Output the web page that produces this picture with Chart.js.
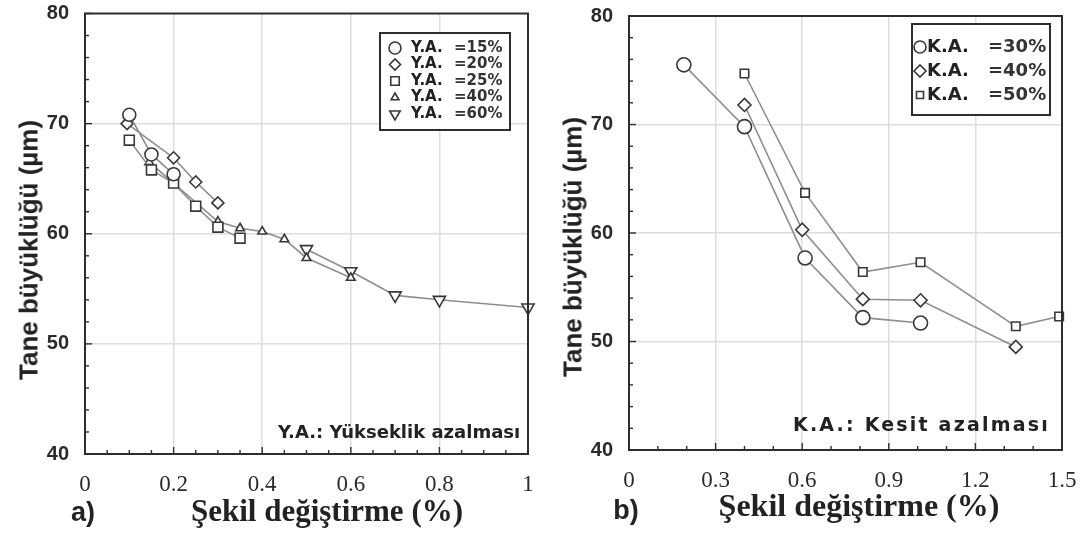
<!DOCTYPE html>
<html>
<head>
<meta charset="utf-8">
<script src="https://cdn.jsdelivr.net/npm/chart.js@4.4.1/dist/chart.umd.min.js"></script>
<style>
  html, body { margin: 0; padding: 0; background: #fff; }
  #page { position: relative; width: 1089px; height: 534px; overflow: hidden; background: #fff; }
  .panel { position: absolute; top: 0; height: 534px; }
  .panel canvas { position: absolute; left: 0; top: 0; }
  .txt { position: absolute; white-space: nowrap; color: #222; line-height: 1; }
  .ytitle { font: bold 26px "Liberation Sans", Arial, sans-serif; transform: translate(-50%, -50%) rotate(-90deg); }
  .xtitle { font: bold 31px "Liberation Serif", "Times New Roman", serif; transform: translate(-50%, -50%); }
  .tag { font: bold 27px "Liberation Sans", Arial, sans-serif; transform: translate(-50%, -50%); }
  .note { font: bold 18px "DejaVu Sans", sans-serif; transform: translate(0, -50%); }
</style>
</head>
<body>
<div id="page">
  <div class="panel" id="panelA" style="left:0;width:545px;">
    <canvas id="chartA" width="545" height="534"></canvas>
  </div>
  <div class="panel" id="panelB" style="left:545px;width:544px;">
    <canvas id="chartB" width="544" height="534"></canvas>
  </div>

  <div class="txt ytitle" style="left:29px;top:250px;">Tane büyüklüğü (µm)</div>
  <div class="txt ytitle" style="left:573px;top:247px;">Tane büyüklüğü (µm)</div>
  <div class="txt tag" style="left:83px;top:512px;">a)</div>
  <div class="txt tag" style="left:626px;top:510px;">b)</div>
  <div class="txt xtitle" style="left:327px;top:511px;">Şekil değiştirme (%)</div>
  <div class="txt xtitle" style="left:859px;top:505px;font-size:32px;">Şekil değiştirme (%)</div>
  <div class="txt note" style="left:278px;top:431px;">Y.A.: Yükseklik azalması</div>
  <div class="txt note" style="left:793px;top:424px;letter-spacing:2.2px;font-size:19px;">K.A.: Kesit azalması</div>
</div>

<script>
// ---------- panel a: height reduction series (Y.A.) ----------
const xTicksA = [0, 0.2, 0.4, 0.6, 0.8, 1];
const yTicks = [40, 50, 60, 70, 80];

const labelsA = ['Y.A. =15%', 'Y.A. =20%', 'Y.A. =25%', 'Y.A. =40%', 'Y.A. =60%'];

const ya15X = [0.1, 0.15, 0.2];
const ya15Y = [70.8, 67.2, 65.4];

const ya20X = [0.095, 0.2, 0.25, 0.3];
const ya20Y = [70.0, 66.9, 64.7, 62.8];

const ya25X = [0.1, 0.15, 0.2, 0.25, 0.3, 0.35];
const ya25Y = [68.5, 65.8, 64.6, 62.5, 60.6, 59.6];

const ya40X = [0.145, 0.3, 0.35, 0.4, 0.45, 0.5, 0.6];
const ya40Y = [66.5, 61.1, 60.5, 60.2, 59.5, 57.8, 56.0];

const ya60X = [0.5, 0.6, 0.7, 0.8, 1.0];
const ya60Y = [58.6, 56.6, 54.4, 54.0, 53.3];

// ---------- panel b: cross-section reduction series (K.A.) ----------
const xTicksB = [0, 0.3, 0.6, 0.9, 1.2, 1.5];

const labelsB = ['K.A. =30%', 'K.A. =40%', 'K.A. =50%'];

const ka30X = [0.19, 0.4, 0.61, 0.81, 1.01];
const ka30Y = [75.5, 69.8, 57.7, 52.2, 51.7];

const ka40X = [0.4, 0.6, 0.81, 1.01, 1.34];
const ka40Y = [71.8, 60.3, 53.9, 53.8, 49.5];

const ka50X = [0.4, 0.61, 0.81, 1.01, 1.34, 1.49];
const ka50Y = [74.7, 63.7, 56.4, 57.3, 51.4, 52.3];

// ---------- shared styling ----------
const LINE_COLOR = '#8e8e8e';
const MARK_COLOR = '#383838';
const FRAME_COLOR = '#2e2e2e';
const GRID_COLOR = '#dedede';

function pairs(xs, ys) {
  return xs.map((x, i) => ({ x: x, y: ys[i] }));
}

function series(label, xs, ys, style, radius, rotation) {
  return {
    label: label,
    data: pairs(xs, ys),
    showLine: true,
    borderColor: LINE_COLOR,
    borderWidth: 1.6,
    pointStyle: style,
    pointRadius: radius,
    pointRotation: rotation || 0,
    pointBorderColor: MARK_COLOR,
    pointBackgroundColor: '#ffffff',
    pointBorderWidth: 1.6,
    pointHoverRadius: radius,
    clip: false,
    tension: 0
  };
}

function markerAt(ctx, ds, x, y) {
  const opts = { pointStyle: ds.pointStyle, rotation: ds.pointRotation, radius: ds.pointRadius, borderWidth: ds.pointBorderWidth };
  ctx.save();
  ctx.strokeStyle = ds.pointBorderColor;
  ctx.fillStyle = ds.pointBackgroundColor;
  ctx.lineWidth = ds.pointBorderWidth;
  if (Chart.helpers && Chart.helpers.drawPoint) {
    Chart.helpers.drawPoint(ctx, opts, x, y);
  } else {
    ctx.beginPath();
    ctx.arc(x, y, ds.pointRadius, 0, Math.PI * 2);
    ctx.fill();
    ctx.stroke();
  }
  ctx.restore();
}

// Box frame around the plot area plus inward major/minor tick marks.
const framePlugin = {
  id: 'frameTicks',
  afterDatasetsDraw(chart, args, opts) {
    const { ctx, chartArea: a, scales } = chart;
    ctx.save();
    ctx.strokeStyle = FRAME_COLOR;
    ctx.lineWidth = 1.4;
    const drawSet = (scale, step, major, horizontal) => {
      const n = Math.round((scale.max - scale.min) / step);
      for (let i = 0; i <= n; i++) {
        const v = scale.min + i * step;
        const isMajor = major.some(m => Math.abs(m - v) < 1e-6);
        const len = isMajor ? 7 : 4;
        const p = scale.getPixelForValue(v);
        ctx.beginPath();
        if (horizontal) {
          ctx.moveTo(p, a.bottom);
          ctx.lineTo(p, a.bottom - len);
        } else {
          ctx.moveTo(a.left, p);
          ctx.lineTo(a.left + len, p);
        }
        ctx.stroke();
      }
    };
    drawSet(scales.x, opts.xMinor, opts.xMajor, true);
    drawSet(scales.y, opts.yMinor, opts.yMajor, false);
    ctx.lineWidth = 2;
    ctx.strokeRect(a.left, a.top, a.right - a.left, a.bottom - a.top);
    ctx.restore();
  }
};

// Boxed legend placed inside the plot area.
const boxLegendPlugin = {
  id: 'boxLegend',
  afterDraw(chart, args, o) {
    const ctx = chart.ctx;
    ctx.save();
    ctx.strokeStyle = FRAME_COLOR;
    ctx.lineWidth = 2;
    ctx.fillStyle = '#ffffff';
    ctx.fillRect(o.box[0], o.box[1], o.box[2] - o.box[0], o.box[3] - o.box[1]);
    ctx.strokeRect(o.box[0], o.box[1], o.box[2] - o.box[0], o.box[3] - o.box[1]);
    chart.data.datasets.forEach((ds, i) => {
      const y = o.rowY + i * o.rowStep;
      const legendDs = Object.assign({}, ds, { pointRadius: o.markerRadius[i] });
      markerAt(ctx, legendDs, o.markerX, y);
      const parts = ds.label.split(' =');
      ctx.fillStyle = '#222';
      ctx.font = o.font;
      ctx.textBaseline = 'middle';
      ctx.textAlign = 'left';
      ctx.fillText(parts[0], o.textX, y);
      ctx.fillStyle = '#333';
      ctx.fillText('=' + parts[1], o.valueX, y);
    });
    ctx.restore();
  }
};

function buildChart(canvasId, cfg) {
  const gridColor = (c) => {
    const v = c.tick ? c.tick.value : null;
    if (v === null) return 'rgba(0,0,0,0)';
    const s = c.scale;
    return (Math.abs(v - s.min) < 1e-9 || Math.abs(v - s.max) < 1e-9) ? 'rgba(0,0,0,0)' : GRID_COLOR;
  };
  return new Chart(document.getElementById(canvasId), {
    type: 'scatter',
    data: { datasets: cfg.datasets },
    options: {
      responsive: false,
      animation: false,
      events: [],
      layout: { padding: cfg.padding, autoPadding: false },
      plugins: {
        legend: { display: false },
        tooltip: { enabled: false },
        frameTicks: { xMinor: cfg.xMinor, xMajor: cfg.xTicks, yMinor: 2, yMajor: yTicks },
        boxLegend: cfg.legend
      },
      scales: {
        x: {
          type: 'linear',
          min: cfg.xTicks[0],
          max: cfg.xTicks[cfg.xTicks.length - 1],
          afterBuildTicks: (s) => { s.ticks = cfg.xTicks.map(v => ({ value: v })); },
          afterFit: (s) => { s.height = 50; s.paddingLeft = 0; s.paddingRight = 0; },
          grid: { color: gridColor, lineWidth: 1.5, drawTicks: false },
          border: { display: false },
          ticks: {
            padding: 17,
            color: '#2a2a2a',
            font: { family: '"Liberation Serif", "Times New Roman", serif', size: 23 },
            callback: (v) => String(v)
          }
        },
        y: {
          type: 'linear',
          min: yTicks[0],
          max: yTicks[yTicks.length - 1],
          afterBuildTicks: (s) => { s.ticks = yTicks.map(v => ({ value: v })); },
          afterFit: (s) => { s.width = cfg.yWidth; s.paddingTop = 0; s.paddingBottom = 0; },
          grid: { color: gridColor, lineWidth: 1.5, drawTicks: false },
          border: { display: false },
          ticks: {
            padding: 16,
            color: '#2a2a2a',
            font: { family: '"Liberation Sans", Arial, sans-serif', size: 20, weight: 'bold' },
            callback: (v) => String(v)
          }
        }
      }
    },
    plugins: [framePlugin, boxLegendPlugin]
  });
}

buildChart('chartA', {
  datasets: [
    series(labelsA[0], ya15X, ya15Y, 'circle', 6.5),
    series(labelsA[1], ya20X, ya20Y, 'rectRot', 6),
    series(labelsA[2], ya25X, ya25Y, 'rect', 7),
    series(labelsA[3], ya40X, ya40Y, 'triangle', 5),
    series(labelsA[4], ya60X, ya60Y, 'triangle', 7, 180)
  ],
  xTicks: xTicksA,
  xMinor: 0.05,
  yWidth: 85,
  padding: { left: 0, top: 13.5, right: 17, bottom: 30 },
  legend: {
    box: [380, 33, 510, 130],
    rowY: 48, rowStep: 16.5,
    markerX: 395, textX: 411, valueX: 454,
    markerRadius: [6, 5.5, 6, 4.5, 6],
    font: 'bold 15px "DejaVu Sans", sans-serif'
  }
});

buildChart('chartB', {
  datasets: [
    series(labelsB[0], ka30X, ka30Y, 'circle', 7),
    series(labelsB[1], ka40X, ka40Y, 'rectRot', 6.5),
    series(labelsB[2], ka50X, ka50Y, 'rect', 6)
  ],
  xTicks: xTicksB,
  xMinor: 0.1,
  yWidth: 84,
  padding: { left: 0, top: 16, right: 27, bottom: 34 },
  legend: {
    box: [367, 24, 505, 115],
    rowY: 47, rowStep: 24,
    markerX: 375, textX: 382, valueX: 443,
    markerRadius: [6, 6, 5],
    font: 'bold 18px "DejaVu Sans", sans-serif'
  }
});
</script>
</body>
</html>
